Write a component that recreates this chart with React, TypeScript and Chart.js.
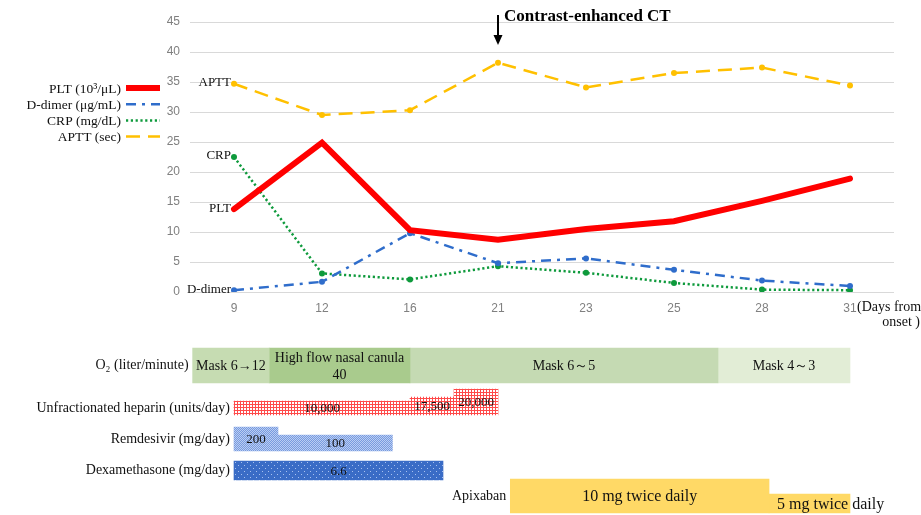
import React, { useEffect, useRef } from 'react';
import { Chart, registerables } from 'chart.js';

Chart.register(...registerables);

// ---------------- Data ----------------
const days = ['9', '12', '16', '21', '23', '25', '28', '31'];
const pltValues = [13.8, 24.9, 10.3, 8.7, 10.5, 11.8, 15.2, 18.9];
const dDimerValues = [0.3, 1.7, 9.8, 4.8, 5.6, 3.7, 1.9, 1.0];
const crpValues = [22.5, 3.1, 2.1, 4.3, 3.2, 1.5, 0.4, 0.3];
const apttValues = [34.7, 29.5, 30.3, 38.2, 34.1, 36.5, 37.4, 34.4];

const seriesNames = ['PLT (10³/μL)', 'D-dimer (μg/mL)', 'CRP (mg/dL)', 'APTT (sec)'];
const seriesShort = ['PLT', 'D-dimer', 'CRP', 'APTT'];

const yMin = 0;
const yMax = 45;
const yStep = 5;

const eventDayIndex = 3; // day 21
const eventLabel = 'Contrast-enhanced CT';
const xTitleLines = ['(Days from', 'onset )'];

// Treatment timeline: positions in x-axis category units (0 = day 9 ... 7 = day 31)
const treatmentRows = [
  'O₂ (liter/minute)',
  'Unfractionated heparin (units/day)',
  'Remdesivir (mg/day)',
  'Dexamethasone (mg/day)',
  'Apixaban',
];
const o2Start = [-0.47, 0.4, 2, 5.5];
const o2End = [0.4, 2, 5.5, 7];
const o2Labels = ['Mask 6→12', 'High flow nasal canula\n40', 'Mask 6～5', 'Mask 4～3'];

const heparinStart = [0, 2, 2.5];
const heparinEnd = [2, 2.5, 3];
const heparinLabels = ['10,000', '17,500', '20,000'];

const remdesivirStart = [0, 0.5];
const remdesivirEnd = [0.5, 1.8];
const remdesivirLabels = ['200', '100'];

const dexStart = [0];
const dexEnd = [2.375];
const dexLabels = ['6.6'];

const apixabanStart = [3.14, 6.08];
const apixabanEnd = [6.08, 7];
const apixabanLabels = ['10 mg twice daily', '5 mg twice daily'];

// ---------------- Styles / layout ----------------
const SERIF = "'Liberation Serif', 'Times New Roman', serif";
const SANS = "'Liberation Sans', Arial, sans-serif";
const TOP_H = 335;
const BOTTOM_H = 180;
const AREA_LEFT = 190;
const AREA_RIGHT_PAD = 27;

const rowStyles = [
  { bottom: 48, heights: [35, 35, 35, 35], fills: ['#C6DCB2', '#A9CB8D', '#C5DAB3', '#E2EDD6'], font: 14 },
  { bottom: 80, heights: [14, 18, 26], fills: ['heparin', 'heparin', 'heparin'], font: 13 },
  { bottom: 116, heights: [24, 16], fills: ['remdesivir', 'remdesivir'], font: 13 },
  { bottom: 145, heights: [19], fills: ['dex'], font: 13 },
  { bottom: 178, heights: [34, 19], fills: ['#FFD966', '#FFD966'], font: 16 },
];

function makePattern(kind: string): CanvasPattern | string {
  const c = document.createElement('canvas');
  const g = c.getContext('2d');
  if (!g) return '#ccc';
  if (kind === 'heparin') {
    c.width = 3; c.height = 3;
    g.fillStyle = '#FFFFFF'; g.fillRect(0, 0, 3, 3);
    g.fillStyle = '#FF4A4A'; g.fillRect(0, 0, 3, 1); g.fillRect(0, 0, 1, 3);
  } else if (kind === 'remdesivir') {
    c.width = 2; c.height = 2;
    g.fillStyle = '#BACDF3'; g.fillRect(0, 0, 2, 2);
    g.fillStyle = '#789BDE'; g.fillRect(0, 0, 1, 1); g.fillRect(1, 1, 1, 1);
  } else if (kind === 'dex') {
    c.width = 6; c.height = 6;
    g.fillStyle = '#3A6CC6'; g.fillRect(0, 0, 6, 6);
    g.fillStyle = '#A9C1EE'; g.fillRect(1, 1, 1, 1); g.fillRect(4, 4, 1, 1);
  } else {
    return kind;
  }
  const p = g.createPattern(c, 'repeat');
  return p || '#ccc';
}

export default function App() {
  const topRef = useRef<HTMLCanvasElement>(null);
  const bottomRef = useRef<HTMLCanvasElement>(null);

  useEffect(() => {
    if (!topRef.current || !bottomRef.current) return;

    const topDecor = {
      id: 'topDecor',
      afterDatasetsDraw(chart: any) {
        const ctx = chart.ctx;
        ctx.save();
        // start labels
        ctx.font = `13px ${SERIF}`;
        ctx.fillStyle = '#111';
        ctx.textAlign = 'right';
        ctx.textBaseline = 'middle';
        chart.data.datasets.forEach((ds: any, i: number) => {
          const pt = chart.getDatasetMeta(i).data[0];
          if (pt) ctx.fillText(seriesShort[i], pt.x - 3, pt.y - 1);
        });
        // legend
        chart.data.datasets.forEach((ds: any, i: number) => {
          const y = 89 + i * 16.2;
          ctx.font = `13.5px ${SERIF}`;
          ctx.fillStyle = '#111';
          ctx.textAlign = 'right';
          ctx.fillText(seriesNames[i], 121, y);
          ctx.save();
          ctx.strokeStyle = ds.borderColor;
          ctx.lineWidth = Math.min(ds.borderWidth, 6);
          ctx.setLineDash(ds.borderDash || []);
          ctx.beginPath();
          ctx.moveTo(126, y - 1);
          ctx.lineTo(160, y - 1);
          ctx.stroke();
          ctx.restore();
        });
        // event arrow
        const ax = chart.scales.x.getPixelForValue(eventDayIndex);
        ctx.strokeStyle = '#000';
        ctx.fillStyle = '#000';
        ctx.lineWidth = 2;
        ctx.beginPath();
        ctx.moveTo(ax, 15);
        ctx.lineTo(ax, 37);
        ctx.stroke();
        ctx.beginPath();
        ctx.moveTo(ax - 4.5, 35);
        ctx.lineTo(ax + 4.5, 35);
        ctx.lineTo(ax, 45);
        ctx.closePath();
        ctx.fill();
        ctx.font = `bold 17px ${SERIF}`;
        ctx.textAlign = 'left';
        ctx.textBaseline = 'middle';
        ctx.fillText(eventLabel, ax + 6, 17);
        // x axis title
        ctx.font = `14px ${SERIF}`;
        ctx.fillStyle = '#111';
        ctx.textAlign = 'left';
        ctx.fillText(xTitleLines[0], 857, 307);
        ctx.textAlign = 'right';
        ctx.fillText(xTitleLines[1], 920, 322);
        ctx.restore();
      },
    };

    const top = new Chart(topRef.current, {
      type: 'line',
      data: {
        labels: days,
        datasets: [
          {
            label: seriesNames[0], data: pltValues, borderColor: '#FF0000', backgroundColor: '#FF0000',
            borderWidth: 6, pointRadius: 0, borderCapStyle: 'round', tension: 0,
          },
          {
            label: seriesNames[1], data: dDimerValues, borderColor: '#2F6DCB', backgroundColor: '#2F6DCB',
            borderWidth: 2.5, borderDash: [10, 6, 3, 6], pointRadius: 3, pointBorderWidth: 0, tension: 0,
          },
          {
            label: seriesNames[2], data: crpValues, borderColor: '#0E9A3C', backgroundColor: '#0E9A3C',
            borderWidth: 2.5, borderDash: [2.2, 2.6], pointRadius: 3, pointBorderWidth: 0, tension: 0,
          },
          {
            label: seriesNames[3], data: apttValues, borderColor: '#FFC000', backgroundColor: '#FFC000',
            borderWidth: 2.5, borderDash: [14, 8], pointRadius: 3, pointBorderWidth: 0, tension: 0,
          },
        ] as any,
      },
      options: {
        animation: false,
        responsive: true,
        maintainAspectRatio: false,
        layout: { padding: { left: 0, right: AREA_RIGHT_PAD, top: 22, bottom: 0 } },
        plugins: { legend: { display: false }, tooltip: { enabled: false } },
        scales: {
          x: {
            offset: true,
            grid: { display: false },
            border: { display: false },
            ticks: { color: '#808080', font: { family: SANS, size: 12 }, padding: 1 },
            afterFit: (s: any) => { s.height = TOP_H - 292; },
          },
          y: {
            min: yMin, max: yMax,
            grid: { color: '#D9D9D9', lineWidth: 1, drawTicks: false },
            border: { display: false },
            ticks: { stepSize: yStep, color: '#808080', font: { family: SANS, size: 12 }, padding: 10 },
            afterFit: (s: any) => { s.width = AREA_LEFT; },
          },
        },
      } as any,
      plugins: [topDecor],
    });

    // bottom timeline
    const rowsData = [
      { starts: o2Start, ends: o2End, labels: o2Labels },
      { starts: heparinStart, ends: heparinEnd, labels: heparinLabels },
      { starts: remdesivirStart, ends: remdesivirEnd, labels: remdesivirLabels },
      { starts: dexStart, ends: dexEnd, labels: dexLabels },
      { starts: apixabanStart, ends: apixabanEnd, labels: apixabanLabels },
    ];
    const datasets: any[] = [];
    rowsData.forEach((row, r) => {
      const st = rowStyles[r];
      row.starts.forEach((s, k) => {
        const h = st.heights[k];
        datasets.push({
          data: [{ x: [s, row.ends[k]], y: st.bottom - h / 2 }],
          barThickness: h,
          backgroundColor: makePattern(st.fills[k]),
          borderWidth: 0,
          grouped: false,
          rowIndex: r,
          segIndex: k,
          segLabel: row.labels[k],
        });
      });
    });

    const bottomDecor = {
      id: 'bottomDecor',
      afterDatasetsDraw(chart: any) {
        const ctx = chart.ctx;
        ctx.save();
        ctx.fillStyle = '#111';
        ctx.textBaseline = 'middle';
        chart.data.datasets.forEach((ds: any, i: number) => {
          const el = chart.getDatasetMeta(i).data[0];
          if (!el) return;
          const { x, y, base } = el.getProps(['x', 'y', 'base'], true);
          const left = Math.min(x, base);
          const right = Math.max(x, base);
          const st = rowStyles[ds.rowIndex];
          ctx.font = `${st.font}px ${SERIF}`;
          const lines = String(ds.segLabel).split('\n');
          const lh = st.font * 1.2;
          lines.forEach((ln: string, li: number) => {
            const ty = y + 1 + (li - (lines.length - 1) / 2) * lh;
            const w = ctx.measureText(ln).width;
            if (w > right - left) {
              ctx.textAlign = 'left';
              ctx.fillText(ln, left + 8, ty);
            } else {
              ctx.textAlign = 'center';
              ctx.fillText(ln, (left + right) / 2, ty);
            }
          });
          if (ds.segIndex === 0) {
            ctx.font = `14px ${SERIF}`;
            ctx.textAlign = 'right';
            ctx.fillText(treatmentRows[ds.rowIndex], left - 4, y);
          }
        });
        ctx.restore();
      },
    };

    const bottom = new Chart(bottomRef.current, {
      type: 'bar',
      data: { datasets },
      options: {
        indexAxis: 'y',
        animation: false,
        responsive: true,
        maintainAspectRatio: false,
        layout: { padding: { left: AREA_LEFT, right: AREA_RIGHT_PAD, top: 0, bottom: 0 } },
        plugins: { legend: { display: false }, tooltip: { enabled: false } },
        scales: {
          x: { type: 'linear', min: -0.5, max: days.length - 0.5, display: false, offset: false },
          y: { type: 'linear', min: 0, max: BOTTOM_H, reverse: true, display: false, offset: false },
        },
      } as any,
      plugins: [bottomDecor],
    });

    return () => {
      top.destroy();
      bottom.destroy();
    };
  }, []);

  return (
    <div style={{ position: 'fixed', left: 0, top: 0, width: 921, height: 515, background: '#fff' }}>
      <div style={{ position: 'absolute', left: 0, top: 0, width: 921, height: TOP_H }}>
        <canvas ref={topRef} />
      </div>
      <div style={{ position: 'absolute', left: 0, top: TOP_H, width: 921, height: BOTTOM_H }}>
        <canvas ref={bottomRef} />
      </div>
    </div>
  );
}
